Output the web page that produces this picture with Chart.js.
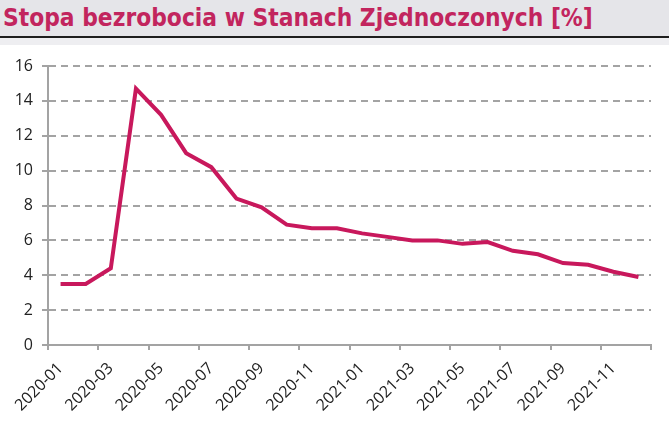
<!DOCTYPE html>
<html lang="pl">
<head>
  <meta charset="UTF-8" />
  <title>Stopa bezrobocia w USA</title>
  <script src="https://cdn.jsdelivr.net/npm/chart.js"></script>
  <style>
    body {
      margin: 0;
      padding: 0;
      background: #fff;
      width: 669px;
      height: 426px;
      overflow: hidden;
    }
    /* title bar with dark rule underneath */
    .header {
      background: #e5e5e9;
      height: 36px;
      border-bottom: 2px solid #1e1e1e;
      font-family: 'DejaVu Sans Condensed', 'DejaVu Sans', sans-serif;
      font-weight: bold;
      font-size: 24.3px;
      color: #c2255e;
      line-height: 35px;
      padding-left: 3px;
      white-space: nowrap;
    }
    .strip {
      background: #eeeef1;
      height: 7px;
    }
    .chart-box {
      position: relative;
      width: 669px;
      height: 381px;
    }
  </style>
</head>
<body>
  <div class="header">Stopa bezrobocia w Stanach Zjednoczonych [%]</div>
  <div class="strip"></div>
  <div class="chart-box">
    <canvas id="unempChart"></canvas>
  </div>

  <script>
    // months Jan 2020 - Dec 2021
    const months = [
      '2020-01', '2020-02', '2020-03', '2020-04', '2020-05', '2020-06',
      '2020-07', '2020-08', '2020-09', '2020-10', '2020-11', '2020-12',
      '2021-01', '2021-02', '2021-03', '2021-04', '2021-05', '2021-06',
      '2021-07', '2021-08', '2021-09', '2021-10', '2021-11', '2021-12'
    ];
    // unemployment rate, %
    const unemployment = [
      3.5, 3.5, 4.4, 14.7, 13.2, 11.0, 10.2, 8.4, 7.9, 6.9, 6.7, 6.7,
      6.4, 6.2, 6.0, 6.0, 5.8, 5.9, 5.4, 5.2, 4.7, 4.6, 4.2, 3.9
    ];
    const yTicks = [0, 2, 4, 6, 8, 10, 12, 14, 16];

    const axisGrey = '#a3a3a3';
    const lineColor = '#c8185c';

    const ctx = document.getElementById('unempChart').getContext('2d');
    new Chart(ctx, {
      type: 'line',
      data: {
        labels: months,
        datasets: [{
          data: unemployment,
          borderColor: lineColor,
          borderWidth: 4,
          pointRadius: 0,
          tension: 0,
          fill: false
        }]
      },
      options: {
        responsive: true,
        maintainAspectRatio: false,
        animation: false,
        layout: { padding: { top: 21, right: 18, left: 0, bottom: 0 } },
        plugins: {
          legend: { display: false },
          tooltip: { enabled: false }
        },
        scales: {
          x: {
            type: 'category',
            offset: true,
            afterFit: s => { s.height = 81; },
            grid: {
              offset: true,
              drawOnChartArea: false,
              drawTicks: true,
              tickLength: 5,
              lineWidth: 2,
              // only every second boundary gets a tick mark
              color: c => (c.index === undefined || c.index % 2 === 0) ? axisGrey : 'rgba(0,0,0,0)'
            },
            border: { display: true, color: axisGrey, width: 2 },
            ticks: {
              autoSkip: false,
              maxRotation: 45,
              minRotation: 45,
              padding: 9,
              color: '#222',
              font: { family: "'Open Sans', sans-serif", size: 16 },
              callback: (v, i) => i % 2 === 0 ? months[i] : ''
            }
          },
          y: {
            min: 0,
            max: 16,
            afterFit: s => { s.width = 48; },
            afterBuildTicks: s => { s.ticks = yTicks.map(v => ({ value: v })); },
            grid: {
              color: axisGrey,
              lineWidth: 2,
              tickLength: 6,
              tickBorderDash: []
            },
            // in v4 border.dash styles the grid lines
            border: { display: true, color: axisGrey, width: 2, dash: [7, 5] },
            ticks: {
              padding: 9,
              color: '#222',
              font: { family: "'Open Sans', sans-serif", size: 16 }
            }
          }
        }
      }
    });
  </script>
</body>
</html>
